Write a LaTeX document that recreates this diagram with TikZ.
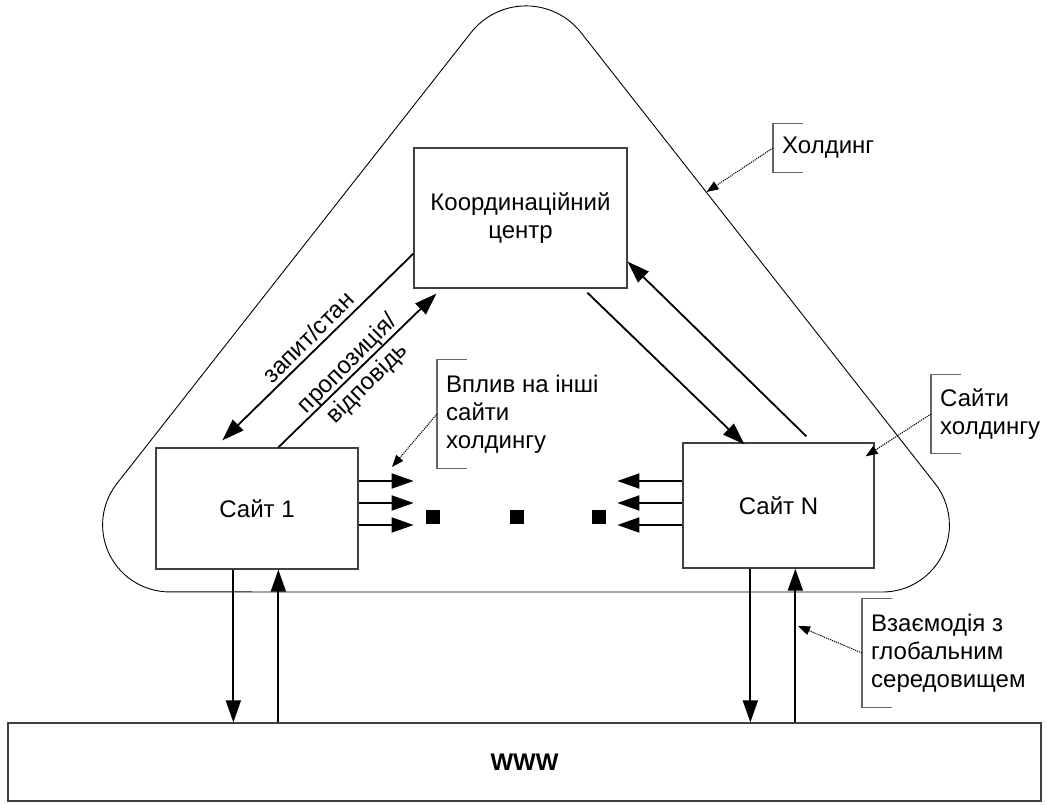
\documentclass[tikz,border=0pt]{standalone}
\usepackage{fontspec}
\setmainfont{Liberation Sans}
\usetikzlibrary{arrows.meta,calc}
\begin{document}
\begin{tikzpicture}[x=1pt,y=-1pt,
  every node/.style={font=\fontsize{24}{28}\selectfont, inner sep=0pt},
  box/.style={draw=black!75, line width=1.3pt},
  flow/.style={line width=1.8pt, -{Triangle[length=22pt,width=15pt]}},
  hint/.style={line width=1.1pt, densely dotted, -{Triangle[length=12pt,width=9pt]}},
  bracket/.style={draw=black!60, line width=1.3pt},
  outline/.style={line width=0.9pt},
  callout/.style={anchor=west, inner xsep=9pt, align=left}]
\useasboundingbox (0,0) rectangle (1047,805);

% holding boundary: triangle with rounded corners
\draw[outline] (470.9,32.7) -- (116.9,483.6)
  arc[start angle=218.1, end angle=90, radius=67] -- (882.4,592)
  arc[start angle=90, end angle=-38.1, radius=67] -- (581.1,32.7)
  arc[start angle=-38.1, end angle=-141.9, radius=70] -- cycle;

% main blocks
\node[box, minimum width=213pt, minimum height=140pt, align=center] (cc) at (520.5,218) {Координаційний\\центр};
\node[box, minimum width=202pt, minimum height=121pt] (s1) at (257,508.5) {Сайт 1};
\node[box, minimum width=191pt, minimum height=125pt] (sn) at (778.5,505.5) {Сайт N};
\node[box, minimum width=1033pt, minimum height=78pt, font=\fontsize{24}{28}\selectfont\bfseries] (www) at (524.5,762) {WWW};

% ellipsis between the sites
\node[fill, minimum size=14pt] (d1) at (433,517) {};
\node[fill, minimum size=14pt] (d2) at (517,517) {};
\node[fill, minimum size=14pt] (d3) at (599,517) {};

% exchange between the centre and the sites
\draw[flow] ([yshift=35pt]cc.south west) -- ([xshift=67pt,yshift=7pt]s1.north west);
\draw[flow] ([xshift=123pt]s1.north west) -- ([xshift=23pt,yshift=-5pt]cc.south west);
\draw[flow] ([xshift=174pt,yshift=-4pt]cc.south west) -- ([xshift=62pt,yshift=-2pt]sn.north west);
\draw[flow] ([xshift=124pt,yshift=6pt]sn.north west) -- ([yshift=27pt]cc.south east);

\node[rotate=45] (lq) at (308,337) {запит/стан};
\node[rotate=45, align=center] (lp) at (358,374) {пропозиція/\\відповідь};

% influence on other sites
\foreach \dy in {27.5,5.5,-16.5}
  \draw[flow] ([yshift=\dy pt]s1.east) -- ++(55,0);
\foreach \dy in {24.5,2.5,-19.5}
  \draw[flow] ([yshift=\dy pt]sn.west) -- ++(-65,0);

% links to the global environment
\coordinate (s1d) at ([xshift=78pt]s1.south west);
\coordinate (s1u) at ([xshift=123pt]s1.south west);
\coordinate (snd) at ([xshift=68pt]sn.south west);
\coordinate (snu) at ([xshift=113pt]sn.south west);
\draw[flow] (s1d) -- (s1d |- www.north);
\draw[flow] (s1u |- www.north) -- (s1u);
\draw[flow] (snd) -- (snd |- www.north);
\draw[flow] (snu |- www.north) -- (snu);

% callouts
\coordinate (holdEdge) at (706.5,192);
\coordinate (inflTip) at (392,467);
\coordinate (globTip) at (798,626);

\node[callout, minimum height=48pt] (hold) at (773,148) {Холдинг};
\node[callout, minimum height=108pt] (infl) at (437,414) {Вплив на інші\\сайти\\холдингу};
\node[callout, minimum height=78pt] (sites) at (931,414) {Сайти\\холдингу};
\node[callout, minimum height=108pt] (glob) at (862,653) {Взаємодія з\\глобальним\\середовищем};

\foreach \n in {hold,infl,sites,glob}
  \draw[bracket] ([xshift=30pt]\n.north west) -- (\n.north west) -- (\n.south west) -- ([xshift=30pt]\n.south west);

\draw[hint] (hold.west) -- (holdEdge);
\draw[hint] (infl.west) -- (inflTip);
\draw[hint] (sites.west) -- ([xshift=-9pt,yshift=-14pt]sn.north east);
\draw[hint] (glob.west) -- (globTip);
\end{tikzpicture}
\end{document}
